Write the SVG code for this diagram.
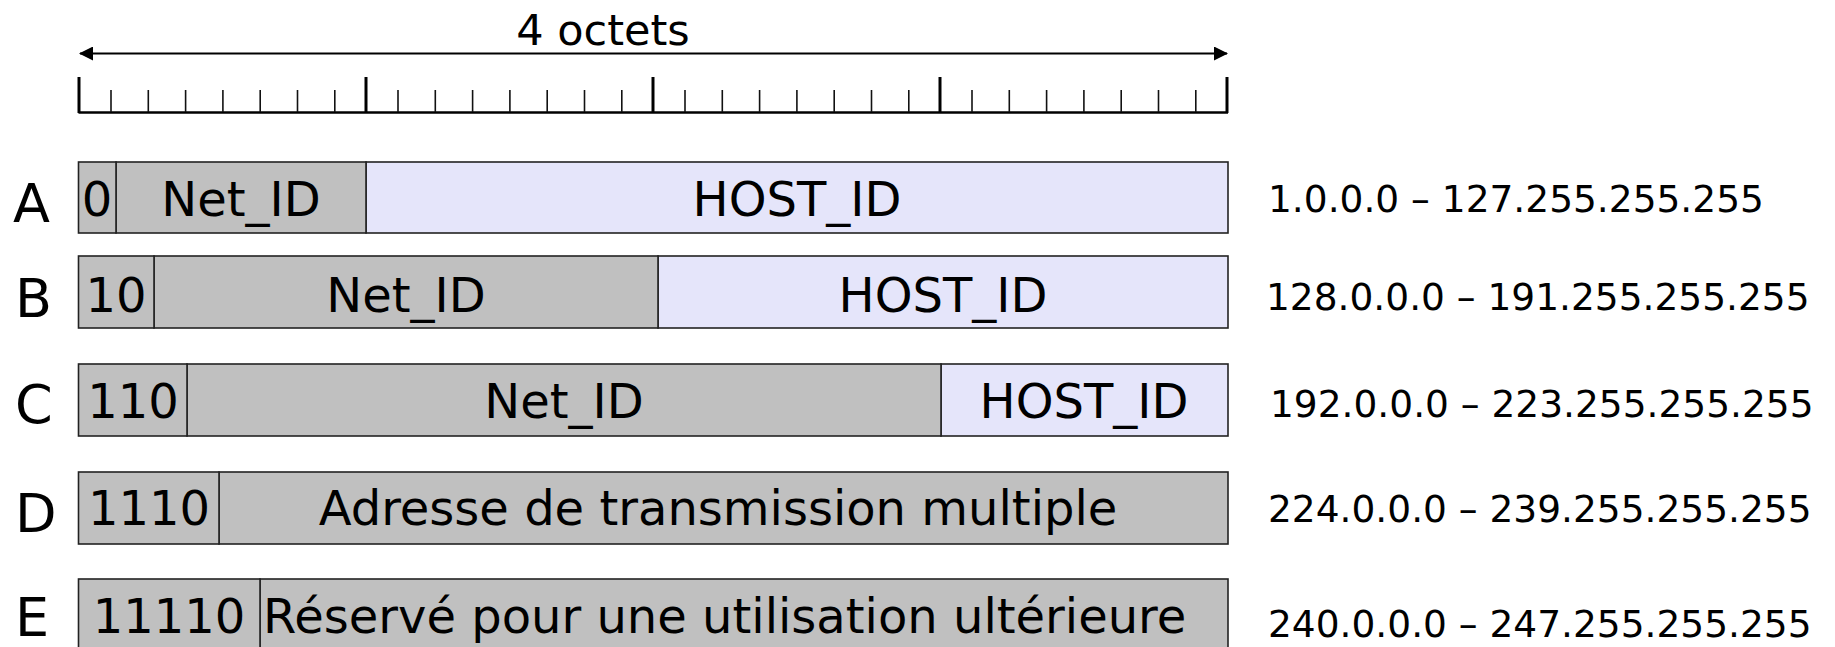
<svg xmlns="http://www.w3.org/2000/svg" width="1835" height="647" viewBox="0 0 1835 647">
  <style>
    text { font-family: "DejaVu Sans", Verdana, sans-serif; fill: #000; }
    .title { font-size: 43px; text-anchor: middle; }
    .cls { font-size: 54px; }
    .cell { font-size: 48px; text-anchor: middle; }
    .cell-start { font-size: 48px; }
    .range { font-size: 37.5px; }
    .net { fill: #c0c0c0; stroke: #222; stroke-width: 1.6; }
    .host { fill: #e5e5fa; stroke: #222; stroke-width: 1.6; }
    .major { stroke: #000; stroke-width: 3; }
    .minor { stroke: #111; stroke-width: 1.6; }
    .base { stroke: #000; stroke-width: 2.4; }
    .span { stroke: #000; stroke-width: 2.2; fill: none; }
  </style>
  <defs>
    <marker id="head" viewBox="0 0 14 14" refX="13" refY="7" markerWidth="14" markerHeight="14" markerUnits="userSpaceOnUse" orient="auto-start-reverse">
      <path d="M0,0 L14,7 L0,14 Z" fill="#000"/>
    </marker>
  </defs>

  <!-- 32-bit scale: one major tick per octet, minor ticks per bit -->
  <g id="scale">
    <text class="title" x="603" y="45">4 octets</text>
    <line class="base" x1="78.5" y1="112.5" x2="1228" y2="112.5"/>
    <g class="major-ticks">
      <line class="major" x1="79" y1="77" x2="79" y2="113"/>
      <line class="major" x1="366" y1="77" x2="366" y2="113"/>
      <line class="major" x1="653" y1="77" x2="653" y2="113"/>
      <line class="major" x1="940" y1="77" x2="940" y2="113"/>
      <line class="major" x1="1227" y1="77" x2="1227" y2="113"/>
    </g>
    <g class="minor-ticks">
      <line class="minor" x1="111" y1="90" x2="111" y2="112"/>
      <line class="minor" x1="148.3" y1="90" x2="148.3" y2="112"/>
      <line class="minor" x1="185.6" y1="90" x2="185.6" y2="112"/>
      <line class="minor" x1="222.9" y1="90" x2="222.9" y2="112"/>
      <line class="minor" x1="260.2" y1="90" x2="260.2" y2="112"/>
      <line class="minor" x1="297.5" y1="90" x2="297.5" y2="112"/>
      <line class="minor" x1="334.8" y1="90" x2="334.8" y2="112"/>

      <line class="minor" x1="398" y1="90" x2="398" y2="112"/>
      <line class="minor" x1="435.3" y1="90" x2="435.3" y2="112"/>
      <line class="minor" x1="472.6" y1="90" x2="472.6" y2="112"/>
      <line class="minor" x1="509.9" y1="90" x2="509.9" y2="112"/>
      <line class="minor" x1="547.2" y1="90" x2="547.2" y2="112"/>
      <line class="minor" x1="584.5" y1="90" x2="584.5" y2="112"/>
      <line class="minor" x1="621.8" y1="90" x2="621.8" y2="112"/>

      <line class="minor" x1="685" y1="90" x2="685" y2="112"/>
      <line class="minor" x1="722.3" y1="90" x2="722.3" y2="112"/>
      <line class="minor" x1="759.6" y1="90" x2="759.6" y2="112"/>
      <line class="minor" x1="796.9" y1="90" x2="796.9" y2="112"/>
      <line class="minor" x1="834.2" y1="90" x2="834.2" y2="112"/>
      <line class="minor" x1="871.5" y1="90" x2="871.5" y2="112"/>
      <line class="minor" x1="908.8" y1="90" x2="908.8" y2="112"/>

      <line class="minor" x1="972" y1="90" x2="972" y2="112"/>
      <line class="minor" x1="1009.3" y1="90" x2="1009.3" y2="112"/>
      <line class="minor" x1="1046.6" y1="90" x2="1046.6" y2="112"/>
      <line class="minor" x1="1083.9" y1="90" x2="1083.9" y2="112"/>
      <line class="minor" x1="1121.2" y1="90" x2="1121.2" y2="112"/>
      <line class="minor" x1="1158.5" y1="90" x2="1158.5" y2="112"/>
      <line class="minor" x1="1195.8" y1="90" x2="1195.8" y2="112"/>
    </g>
  </g>

  <!-- double-headed span arrow over the full 32 bits -->
  <g id="connectors">
    <line class="span" x1="80" y1="53.5" x2="1227" y2="53.5" marker-start="url(#head)" marker-end="url(#head)"/>
  </g>

  <!-- Class A -->
  <g id="class-a">
    <text class="cls" x="13" y="222">A</text>
    <rect class="host" x="366" y="162" width="862" height="71"/>
    <rect class="net" x="116" y="162" width="250" height="71"/>
    <rect class="net" x="78.5" y="162" width="37.5" height="71"/>
    <text class="cell" x="97" y="216">0</text>
    <text class="cell" x="241" y="216">Net_ID</text>
    <text class="cell" x="797" y="216">HOST_ID</text>
    <text class="range" x="1268" y="212">1.0.0.0 – 127.255.255.255</text>
  </g>

  <!-- Class B -->
  <g id="class-b">
    <text class="cls" x="15" y="317">B</text>
    <rect class="host" x="658" y="256" width="570" height="72"/>
    <rect class="net" x="154" y="256" width="504" height="72"/>
    <rect class="net" x="78.5" y="256" width="75.5" height="72"/>
    <text class="cell" x="116" y="312">10</text>
    <text class="cell" x="406" y="312">Net_ID</text>
    <text class="cell" x="943" y="312">HOST_ID</text>
    <text class="range" x="1266" y="310">128.0.0.0 – 191.255.255.255</text>
  </g>

  <!-- Class C -->
  <g id="class-c">
    <text class="cls" x="15" y="423">C</text>
    <rect class="host" x="941" y="364" width="287" height="72"/>
    <rect class="net" x="187" y="364" width="754" height="72"/>
    <rect class="net" x="78.5" y="364" width="108.5" height="72"/>
    <text class="cell" x="133" y="418">110</text>
    <text class="cell" x="564" y="418">Net_ID</text>
    <text class="cell" x="1084" y="418">HOST_ID</text>
    <text class="range" x="1270" y="417">192.0.0.0 – 223.255.255.255</text>
  </g>

  <!-- Class D -->
  <g id="class-d">
    <text class="cls" x="15" y="532">D</text>
    <rect class="net" x="219" y="472" width="1009" height="72"/>
    <rect class="net" x="78.5" y="472" width="140.5" height="72"/>
    <text class="cell" x="149" y="525">1110</text>
    <text class="cell" x="718" y="525">Adresse de transmission multiple</text>
    <text class="range" x="1268" y="522">224.0.0.0 – 239.255.255.255</text>
  </g>

  <!-- Class E -->
  <g id="class-e">
    <text class="cls" x="15" y="636">E</text>
    <rect class="net" x="260" y="579" width="968" height="72"/>
    <rect class="net" x="78.5" y="579" width="181.5" height="72"/>
    <text class="cell" x="169" y="633">11110</text>
    <text class="cell-start" x="263" y="633">Réservé pour une utilisation ultérieure</text>
    <text class="range" x="1268" y="637">240.0.0.0 – 247.255.255.255</text>
  </g>
</svg>
